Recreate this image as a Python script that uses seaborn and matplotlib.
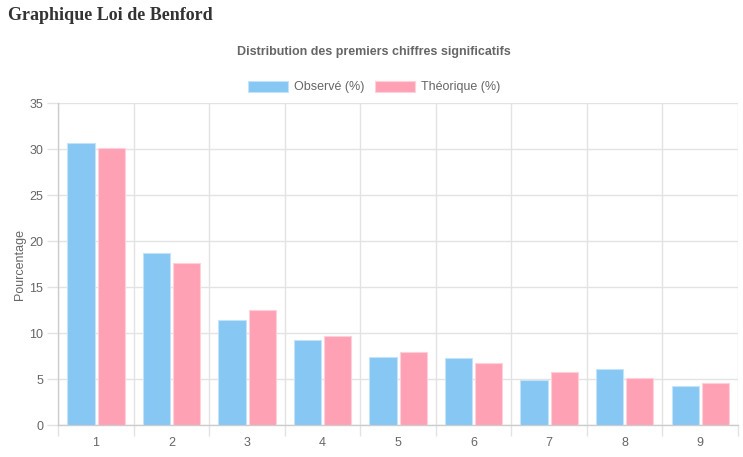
import numpy as np
import pandas as pd
import matplotlib
matplotlib.use("Agg")
import matplotlib.pyplot as plt
from matplotlib.ticker import FixedLocator
import seaborn as sns

chiffres = ["1", "2", "3", "4", "5", "6", "7", "8", "9"]
observe = [30.7, 18.7, 11.4, 9.2, 7.4, 7.3, 4.9, 6.1, 4.2]
theorique = [30.1, 17.6, 12.5, 9.7, 7.9, 6.7, 5.8, 5.1, 4.6]
series = ["Observé (%)", "Théorique (%)"]

couleurs = {"Observé (%)": "#86c7f3", "Théorique (%)": "#ffa1b5"}
bords = {"Observé (%)": "#c4e3f9", "Théorique (%)": "#ffd0da"}

df = pd.DataFrame({
    "chiffre": chiffres * 2,
    "serie": [series[0]] * len(chiffres) + [series[1]] * len(chiffres),
    "valeur": observe + theorique,
})

sns.set_theme(style="white")
plt.rcParams["font.family"] = ["Liberation Sans", "DejaVu Sans"]

W, H = 743, 457
fig = plt.figure(figsize=(W / 100, H / 100), dpi=100)
ax = fig.add_axes([58.3 / W, 1 - 425 / H, (738 - 58.3) / W, (425 - 103.3) / H])

sns.barplot(data=df, x="chiffre", y="valeur", hue="serie", order=chiffres,
            hue_order=series, palette=couleurs, width=0.8, gap=0.1,
            saturation=1, ax=ax, legend=False, zorder=3)

# bordure plus claire autour des barres
for bars, s in zip(ax.containers, series):
    for b in bars:
        b.set_edgecolor(bords[s])
        b.set_linewidth(0.8)

ax.set_xlim(-0.5, 8.5)
ax.set_ylim(0, 35)
ax.set_yticks(np.arange(0, 36, 5))
ax.xaxis.set_minor_locator(FixedLocator(np.arange(-0.5, 9, 1)))

grid_col = "#e3e3e3"
ax.grid(False)
ax.grid(True, axis="y", which="major", color=grid_col, linewidth=1, zorder=0)
ax.grid(True, axis="x", which="minor", color=grid_col, linewidth=1, zorder=0)
ax.set_axisbelow(True)

ax.tick_params(axis="x", which="major", length=0, pad=9, labelsize=9, labelcolor="#666666")
ax.tick_params(axis="x", which="minor", length=8, width=1, color=grid_col, bottom=True)
ax.tick_params(axis="y", which="major", length=8, width=1, color=grid_col, pad=3,
               labelsize=9, labelcolor="#666666", left=True)

for s in ["top", "right"]:
    ax.spines[s].set_visible(False)
for s in ["left", "bottom"]:
    ax.spines[s].set_color("#cccccc")
    ax.spines[s].set_linewidth(1)

ax.set_xlabel("")
ax.set_ylabel("Pourcentage", fontsize=9, color="#666666", labelpad=2)

fig.text(8 / W, 1 - 15 / H, "Graphique Loi de Benford", fontsize=13, fontweight="bold",
         family=["Liberation Serif", "DejaVu Serif"], color="#333333", va="center", ha="left")
fig.text(374 / W, 1 - 52 / H, "Distribution des premiers chiffres significatifs",
         fontsize=9, fontweight="bold", color="#666666", ha="center", va="center")

handles = [plt.Rectangle((0, 0), 1, 1, facecolor=couleurs[s], edgecolor=bords[s], linewidth=0.8)
           for s in series]
fig.legend(handles, series, loc="center", bbox_to_anchor=(374 / W, 1 - 87 / H), ncol=2,
           frameon=False, fontsize=9, labelcolor="#666666", handlelength=3.2,
           handleheight=1.0, handletextpad=0.5, columnspacing=0.8)

fig.savefig("out.png", dpi=100)
